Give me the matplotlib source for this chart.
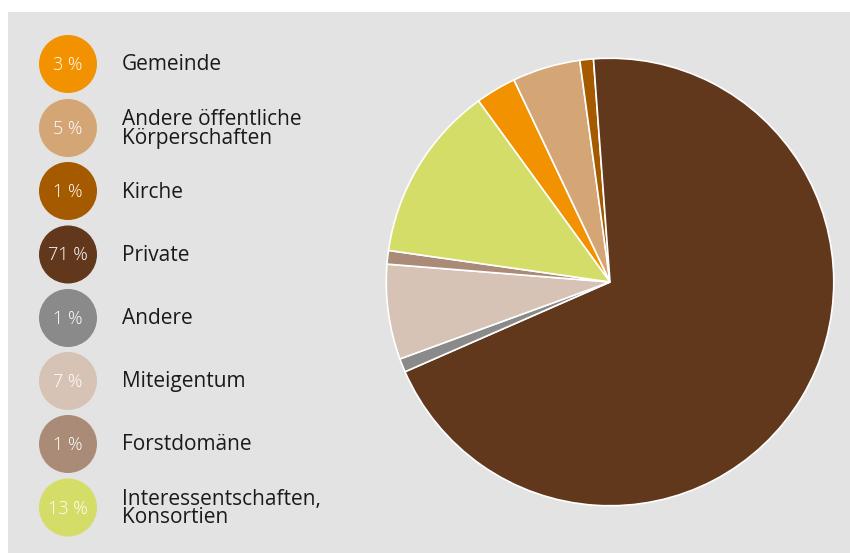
import matplotlib.pyplot as plt
from matplotlib.patches import Circle, Rectangle

# ownership shares, listed clockwise around the pie
labels = ["Gemeinde", "Andere öffentliche\nKörperschaften", "Kirche", "Private",
          "Andere", "Miteigentum", "Forstdomäne", "Interessentschaften,\nKonsortien"]
shares = [3, 5, 1, 71, 1, 7, 1, 13]
colors = ["#f39200", "#d4a575", "#a65a00", "#62381c",
          "#8a8a8a", "#d6c3b5", "#a98b77", "#d4dd68"]

W, H = 850, 553
BG = "#e3e3e3"

fig = plt.figure(figsize=(W / 100, H / 100), dpi=100, facecolor="white")

# full-figure axes in pixel units for the panel and the legend
base = fig.add_axes([0, 0, 1, 1])
base.set_xlim(0, W)
base.set_ylim(H, 0)
base.axis("off")
base.add_patch(Rectangle((8, 12), W - 8, H - 12, facecolor=BG, edgecolor="none"))

row_y = [64, 128, 191, 254.5, 318, 381, 444, 507.5]
for y, lab, val, col in zip(row_y, labels, shares, colors):
    base.add_patch(Circle((68, y), 29, facecolor=col, edgecolor="none"))
    base.text(68, y + 1, f"{val} %", color="white", fontsize=13, family="Open Sans",
              fontweight="light", ha="center", va="center")
    base.text(122, y + 1, lab, color="#1a1a1a", fontsize=15, family="Open Sans",
              ha="left", va="center", linespacing=0.82)

# pie: centre (610, 282), radius 226 px
cx, cy, r = 610, 282, 226
ax = fig.add_axes([(cx - r) / W, (H - cy - r) / H, 2 * r / W, 2 * r / H])
ax.pie(shares, colors=colors, startangle=126, counterclock=False, radius=1,
       wedgeprops=dict(edgecolor="white", linewidth=1.2))
ax.set_xlim(-1.01, 1.01)
ax.set_ylim(-1.01, 1.01)
ax.set_aspect("equal")
ax.axis("off")

fig.savefig("out.png", dpi=100, facecolor="white")
